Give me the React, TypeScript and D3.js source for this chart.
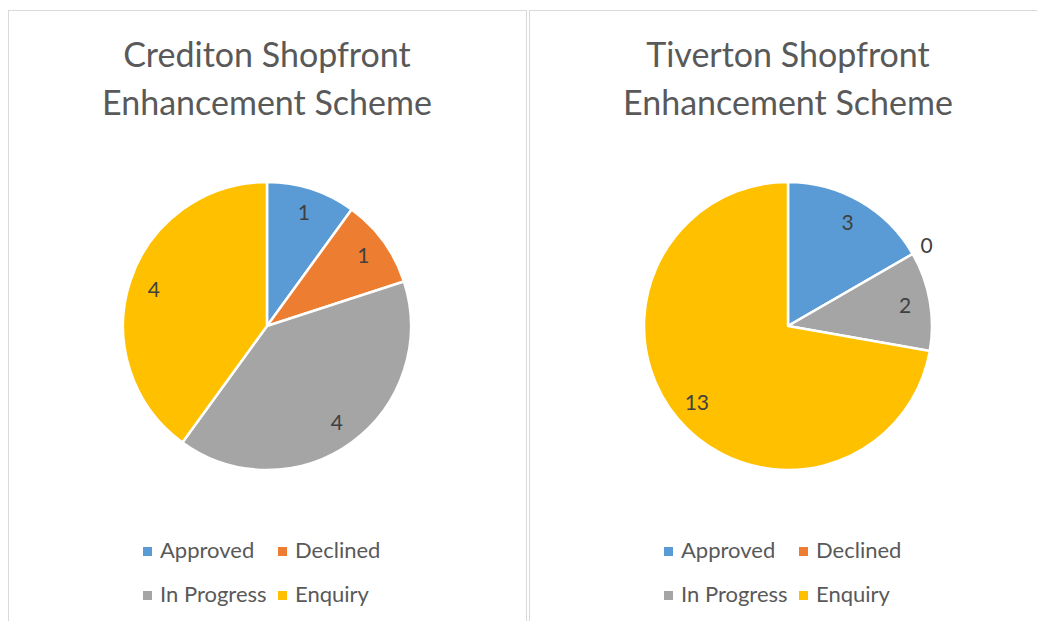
import React from "react";
import * as d3 from "d3";

const categories = ["Approved", "Declined", "In Progress", "Enquiry"];
const colors = ["#5B9BD5", "#ED7D31", "#A5A5A5", "#FFC000"];
const creditonValues = [1, 1, 4, 4];
const tivertonValues = [3, 0, 2, 13];
const creditonTitle = ["Crediton Shopfront", "Enhancement Scheme"];
const tivertonTitle = ["Tiverton Shopfront", "Enhancement Scheme"];

const FONT = "Lato, 'Open Sans', sans-serif";

function PieChart({ x0, title, values }: { x0: number; title: string[]; values: number[] }) {
  const w = 518;
  const cx = w / 2;
  const cy = 316;
  const R = 144;
  const pie = d3.pie<number>().sort(null).value((d) => d);
  const arcs = pie(values);
  const arc = d3.arc<d3.PieArcDatum<number>>().innerRadius(0).outerRadius(R);
  const color = d3.scaleOrdinal<string, string>().domain(categories).range(colors);
  return (
    <g transform={`translate(${x0},10)`}>
      <rect x={0.5} y={0.5} width={w} height={640} fill="#fff" stroke="#D9D9D9" strokeWidth={1} />
      {title.map((t, i) => (
        <text key={i} x={cx} y={57 + i * 48} textAnchor="middle" fontFamily={FONT} fontSize={34} fill="#595959">
          {t}
        </text>
      ))}
      <g transform={`translate(${cx},${cy})`}>
        {arcs.map((a, i) => (
          <path key={i} d={arc(a) || ""} fill={color(categories[i])} stroke="#fff" strokeWidth={2.5} strokeLinejoin="round" />
        ))}
        {arcs.map((a, i) => {
          const mid = (a.startAngle + a.endAngle) / 2;
          const r = a.value === 0 ? R + 16 : 119;
          return (
            <text key={"l" + i} x={Math.sin(mid) * r} y={-Math.cos(mid) * r} dy="0.35em" textAnchor="middle"
              fontFamily={FONT} fontSize={21} fill="#404040">
              {a.value}
            </text>
          );
        })}
      </g>
      {categories.map((c, i) => {
        const col = i % 2;
        const row = Math.floor(i / 2);
        const sx = cx - 124 + col * 135;
        const sy = 548 + row * 44;
        return (
          <g key={"g" + i}>
            <rect x={sx} y={sy - 11} width={9} height={9} fill={color(c)} />
            <text x={sx + 17} y={sy} fontFamily={FONT} fontSize={22} fill="#595959">{c}</text>
          </g>
        );
      })}
    </g>
  );
}

export default function App() {
  return (
    <svg width={1037} height={621} style={{ position: "absolute", left: 0, top: 0, background: "#fff" }}>
      <PieChart x0={8} title={creditonTitle} values={creditonValues} />
      <PieChart x0={529} title={tivertonTitle} values={tivertonValues} />
    </svg>
  );
}
